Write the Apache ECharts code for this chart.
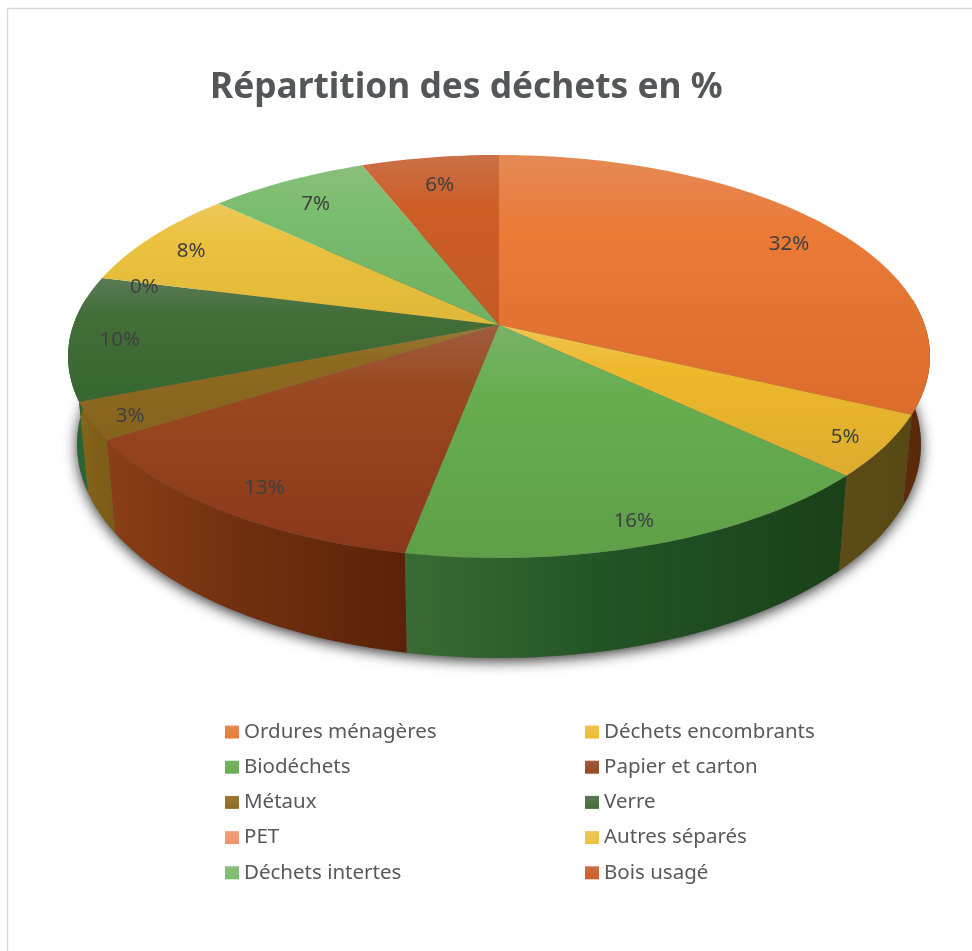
<!DOCTYPE html>
<html>
<head>
<meta charset="utf-8">
<title>Répartition des déchets en %</title>
<style>
html, body { margin: 0; padding: 0; background: #fff; }
#chart1 { width: 972px; height: 951px; }
</style>
<script src="https://cdn.jsdelivr.net/npm/echarts@6/dist/echarts.min.js"></script>
</head>
<body>
<div id="chart1"></div>
<script>
var categories = ['Ordures ménagères', 'Déchets encombrants', 'Biodéchets', 'Papier et carton', 'Métaux', 'Verre', 'PET', 'Autres séparés', 'Déchets intertes', 'Bois usagé'];
var values = [32, 5, 16, 13, 3, 10, 0, 8, 7, 6];

// couleurs du dessus : clair, normal, fonce
var topColors = [
	['#e58a56', '#ea7a36', '#dc6c2c'],
	['#eec653', '#eeb82c', '#dcac2e'],
	['#78b268', '#67ae50', '#5e9f48'],
	['#a05c3e', '#99481f', '#8a381b'],
	['#9a7a38', '#8e6a20', '#86621e'],
	['#5a7a56', '#426e38', '#386630'],
	['#f2a27c', '#f0936a', '#e8845a'],
	['#ecc85c', '#ebc23e', '#e0b83a'],
	['#8abf7c', '#7abd6e', '#70b060'],
	['#cb7048', '#cc5e26', '#c45a24']
];
// couleurs du flanc : gauche, milieu, droite
var wallColors = [
	['#5e2c0c', '#5a2a0b', '#54260a'],
	['#5c4c16', '#5a4a15', '#584814'],
	['#3b6b34', '#235426', '#1a4018'],
	['#8a3f17', '#70300f', '#5a2207'],
	['#86641a', '#806018', '#7a5a16'],
	['#2a6030', '#2c6330', '#2f6630'],
	['#000', '#000', '#000'],
	['#000', '#000', '#000'],
	['#000', '#000', '#000'],
	['#000', '#000', '#000']
];
// distance des etiquettes au centre, part du rayon
var labelRadii = [0.865, 0.905, 0.89, 0.87, 0.91, 0.885, 0.89, 0.88, 0.85, 0.84];

var centerX = 499, centerY = 325;
var radiusX = 425.7, radiusY = 196.6, perspective = 0.156;
var baseScaleX = 0.979, baseScaleY = 1.06, baseDrop = 86;
var labelDrop = 4;
var frontFrom = -8, frontTo = 188;

var total = 0;
for (var t = 0; t < values.length; t++) {
	total += values[t];
}

function rad(deg) {
	return deg * Math.PI / 180;
}

// point du disque du haut, theta en degres depuis l'est, sens horaire
function topPoint(theta, r) {
	var s = 1 / (1 - perspective * r * Math.sin(rad(theta)));
	return [radiusX * r * Math.cos(rad(theta)) * s, radiusY * r * Math.sin(rad(theta)) * s];
}

function screenTop(theta, r) {
	var p = topPoint(theta, r);
	return [centerX + p[0], centerY + p[1]];
}

function screenBase(theta) {
	var p = topPoint(theta, 1);
	return [centerX + p[0] * baseScaleX, centerY + p[1] * baseScaleY + baseDrop];
}

function sliceAngles(index) {
	var before = 0;
	for (var i = 0; i < index; i++) {
		before += values[i];
	}
	return [before / total * 360 - 90, (before + values[index]) / total * 360 - 90];
}

function renderSlice(params, api) {
	var index = params.seriesIndex - 1;
	var value = api.value(0);
	var range = sliceAngles(index);
	var children = [];
	var steps = Math.max(2, Math.ceil((range[1] - range[0]) / 1.5));
	var i, a;

	// dessus
	if (value > 0) {
		var top = [[centerX, centerY]];
		for (i = 0; i <= steps; i++) {
			a = range[0] + (range[1] - range[0]) * i / steps;
			top.push(screenTop(a, 1));
		}
		children.push({
			type: 'polygon',
			z2: 10,
			shape: { points: top },
			style: {
				fill: new echarts.graphic.LinearGradient(0, 0, 0, 1, [
					{ offset: 0, color: topColors[index][0] },
					{ offset: 0.3, color: topColors[index][1] },
					{ offset: 1, color: topColors[index][2] }
				])
			}
		});
	}

	// flanc, seulement la partie visible
	var from = Math.max(range[0], frontFrom);
	var to = Math.min(range[1], frontTo);
	if (value > 0 && to > from) {
		var upper = [], lower = [];
		for (i = 0; i <= steps; i++) {
			a = from + (to - from) * i / steps;
			upper.push(screenTop(a, 1));
			lower.unshift(screenBase(a));
		}
		children.push({
			type: 'polygon',
			z2: 5,
			shape: { points: upper.concat(lower) },
			style: {
				fill: new echarts.graphic.LinearGradient(0, 0, 1, 0, [
					{ offset: 0, color: wallColors[index][0] },
					{ offset: 0.45, color: wallColors[index][1] },
					{ offset: 1, color: wallColors[index][2] }
				])
			}
		});
	}

	// etiquette
	var mid = screenTop((range[0] + range[1]) / 2, labelRadii[index]);
	children.push({
		type: 'text',
		z2: 20,
		style: {
			text: Math.round(value / total * 100) + '%',
			x: mid[0],
			y: mid[1] + labelDrop,
			align: 'center',
			verticalAlign: 'middle',
			fontFamily: 'Noto Sans',
			fontSize: 20.5,
			fill: '#404040'
		}
	});

	return { type: 'group', children: children };
}

function renderShadow() {
	var pts = [];
	for (var a = 0; a < 360; a += 2) {
		pts.push(screenBase(a));
	}
	return {
		type: 'polygon',
		z2: 1,
		shape: { points: pts },
		style: {
			fill: '#666',
			shadowBlur: 14,
			shadowColor: 'rgba(0,0,0,0.8)',
			shadowOffsetX: 0,
			shadowOffsetY: 3
		}
	};
}

var seriesList = [{
	type: 'custom',
	name: 'ombre',
	coordinateSystem: 'none',
	silent: true,
	renderItem: renderShadow,
	data: [1]
}];
var legendLeft = [], legendRight = [];
for (var n = 0; n < categories.length; n++) {
	seriesList.push({
		type: 'custom',
		name: categories[n],
		coordinateSystem: 'none',
		silent: true,
		renderItem: renderSlice,
		itemStyle: { color: topColors[n][1] },
		data: [values[n]]
	});
	var entry = {
		name: categories[n],
		itemStyle: {
			color: new echarts.graphic.LinearGradient(0, 0, 0, 1, [
				{ offset: 0, color: topColors[n][0] },
				{ offset: 1, color: topColors[n][1] }
			])
		}
	};
	if (n % 2 == 0) {
		legendLeft.push(entry);
	} else {
		legendRight.push(entry);
	}
}

function legendBlock(x, data) {
	return {
		orient: 'vertical',
		left: x,
		top: 720,
		padding: 0,
		itemWidth: 14,
		itemHeight: 13,
		itemGap: 11.2,
		icon: 'rect',
		selectedMode: false,
		textStyle: { fontFamily: 'Noto Sans', fontSize: 20.5, lineHeight: 24, color: '#595959' },
		data: data
	};
}

var chart1 = echarts.init(document.getElementById('chart1'));
chart1.setOption({
	animation: false,
	backgroundColor: '#fff',
	title: {
		text: 'Répartition des déchets en %',
		left: 210,
		top: 70,
		padding: 0,
		textStyle: { fontFamily: 'Noto Sans', fontWeight: 'bold', fontSize: 35.3, color: '#53575a' }
	},
	legend: [legendBlock(225, legendLeft), legendBlock(585, legendRight)],
	graphic: [
		{ type: 'line', silent: true, shape: { x1: 7.5, y1: 8.5, x2: 972, y2: 8.5 }, style: { stroke: '#d9d9d9', lineWidth: 1.5 } },
		{ type: 'line', silent: true, shape: { x1: 7.5, y1: 8.5, x2: 7.5, y2: 951 }, style: { stroke: '#d9d9d9', lineWidth: 1.5 } }
	],
	series: seriesList
});
</script>
</body>
</html>
